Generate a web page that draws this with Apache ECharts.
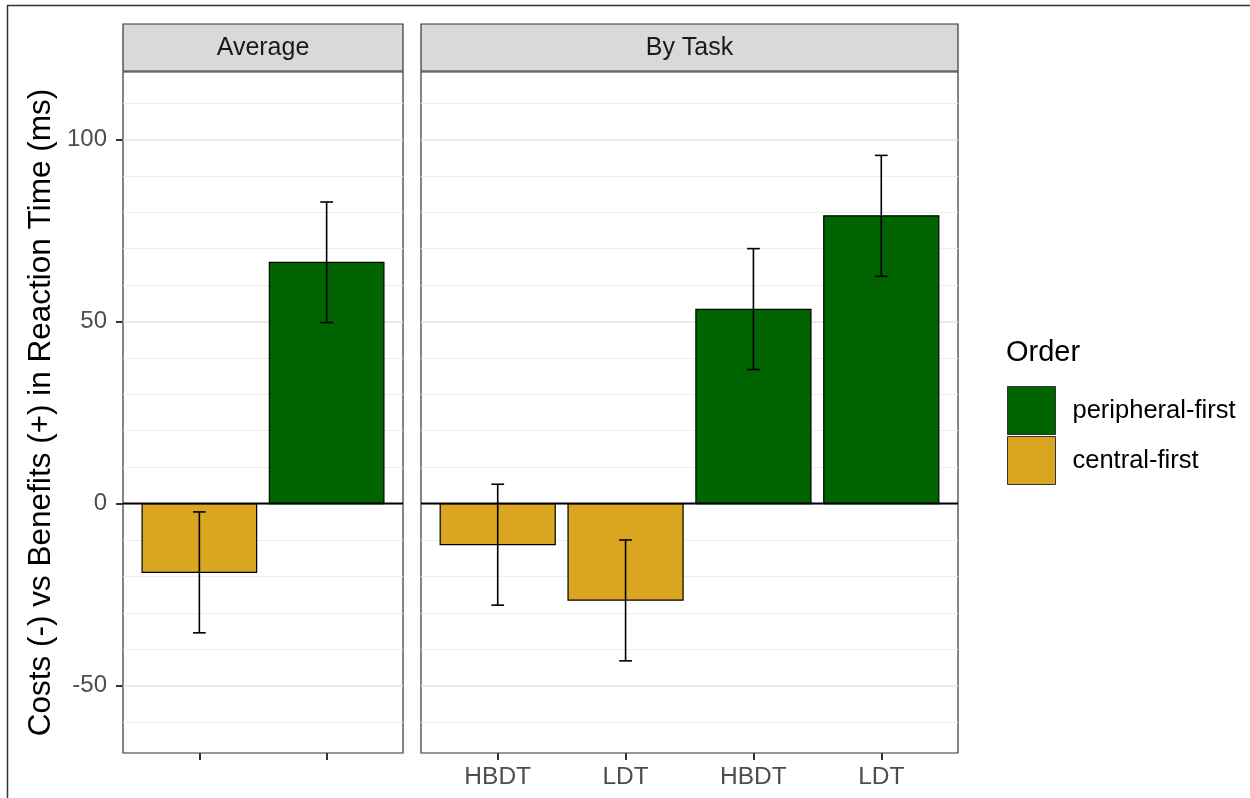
<!DOCTYPE html>
<html>
<head>
<meta charset="utf-8">
<title>Costs vs Benefits in Reaction Time</title>
<script src="https://cdn.jsdelivr.net/npm/echarts@6/dist/echarts.min.js"></script>
<style>
  html, body { margin: 0; padding: 0; background: #fff; }
  #chart { width: 1250px; height: 798px; }
</style>
</head>
<body>
<div id="chart"></div>
<script>
// ---- data ----
const panelTitles = ['Average', 'By Task'];
const orderLevels = ['peripheral-first', 'central-first'];
const orderColors = { 'peripheral-first': '#006400', 'central-first': '#DAA520' };

// Average panel: one bar per order
const avgOrder = ['central-first', 'peripheral-first'];
const avgMean = [-18.9, 66.2];
const avgLower = [-35.5, 49.7];
const avgUpper = [-2.3, 82.8];

// By Task panel
const taskLabels = ['HBDT', 'LDT', 'HBDT', 'LDT'];
const taskOrder = ['central-first', 'central-first', 'peripheral-first', 'peripheral-first'];
const taskMean = [-11.3, -26.5, 53.3, 79.0];
const taskLower = [-27.9, -43.2, 36.8, 62.4];
const taskUpper = [5.3, -10.0, 70.0, 95.6];

// y axis
const yMin = -68.5, yMax = 118.5;
const yMajor = [-50, 0, 50, 100];
const yMinor = [-60, -40, -30, -20, -10, 10, 20, 30, 40, 60, 70, 80, 90, 110];
const yTitle = 'Costs (-) vs Benefits (+) in Reaction Time (ms)';

// ---- layout ----
const FONT = "'Liberation Sans', Arial, Helvetica, sans-serif";
const panelTop = 72, panelHeight = 681;
const panels = [
  { left: 123, width: 280, n: 2 },
  { left: 421, width: 537, n: 4 }
];
const barHalf = 0.45, capHalf = 0.05;

function rowsFor(order, means, lower, upper, level) {
  const rows = [];
  order.forEach((o, i) => {
    if (o === level) rows.push([i + 1, means[i], lower[i], upper[i]]);
  });
  return rows;
}

function renderBar(params, api) {
  const x = api.value(0), y = api.value(1);
  const a = api.coord([x - barHalf, y]);
  const b = api.coord([x + barHalf, 0]);
  return {
    type: 'rect',
    shape: { x: a[0], y: Math.min(a[1], b[1]), width: b[0] - a[0], height: Math.abs(b[1] - a[1]) },
    style: { fill: api.visual('color'), stroke: '#000', lineWidth: 1.2 }
  };
}

function renderErr(params, api) {
  const x = api.value(0), lo = api.value(2), hi = api.value(3);
  const t = api.coord([x, hi]), b = api.coord([x, lo]);
  const l = api.coord([x - capHalf, hi])[0], r = api.coord([x + capHalf, hi])[0];
  const st = { stroke: '#000', lineWidth: 1.6 };
  return {
    type: 'group',
    children: [
      { type: 'line', shape: { x1: t[0], y1: t[1], x2: b[0], y2: b[1] }, style: st },
      { type: 'line', shape: { x1: l, y1: t[1], x2: r, y2: t[1] }, style: st },
      { type: 'line', shape: { x1: l, y1: b[1], x2: r, y2: b[1] }, style: st }
    ]
  };
}

const grids = panels.map(p => ({
  left: p.left, top: panelTop, width: p.width, height: panelHeight,
  show: true, borderColor: '#333', borderWidth: 1.2, backgroundColor: '#fff'
}));

const xAxes = panels.map((p, gi) => ({
  type: 'value', gridIndex: gi, min: 0.4, max: p.n + 0.6, position: 'bottom',
  axisLine: { show: false, onZero: false },
  splitLine: { show: false },
  axisTick: {
    show: true, length: 7, customValues: p.n === 2 ? [1, 2] : [1, 2, 3, 4],
    lineStyle: { color: '#333', width: 2 }
  },
  axisLabel: {
    show: gi === 1, customValues: [1, 2, 3, 4], margin: 12,
    fontSize: 24.5, color: '#4d4d4d', fontFamily: FONT,
    formatter: v => taskLabels[Math.round(v) - 1] || ''
  }
}));

const yAxes = [];
panels.forEach((p, gi) => {
  // minor grid lines
  yAxes.push({
    type: 'value', gridIndex: gi, min: yMin, max: yMax, position: 'left',
    axisLine: { show: false, onZero: false },
    axisLabel: { show: false },
    axisTick: { show: false, customValues: yMinor },
    splitLine: { show: true, lineStyle: { color: '#ececec', width: 1 } }
  });
  // major grid lines, ticks and labels
  yAxes.push({
    type: 'value', gridIndex: gi, min: yMin, max: yMax, position: 'left',
    axisLine: { show: false, onZero: false },
    axisLabel: {
      show: gi === 0, customValues: yMajor, margin: 16,
      fontSize: 24, color: '#4d4d4d', fontFamily: FONT
    },
    axisTick: { show: gi === 0, customValues: yMajor, length: 7, lineStyle: { color: '#333', width: 2 } },
    splitLine: { show: true, lineStyle: { color: '#e3e3e3', width: 1.6 } },
    name: gi === 0 ? yTitle : '',
    nameLocation: 'middle', nameRotate: 90, nameGap: 66,
    nameTextStyle: { fontSize: 31.5, color: '#000', fontFamily: FONT }
  });
});

const series = [];
const sources = [
  { order: avgOrder, mean: avgMean, lower: avgLower, upper: avgUpper },
  { order: taskOrder, mean: taskMean, lower: taskLower, upper: taskUpper }
];
sources.forEach((s, gi) => {
  orderLevels.forEach(level => {
    const rows = rowsFor(s.order, s.mean, s.lower, s.upper, level);
    series.push({
      type: 'custom', name: level, xAxisIndex: gi, yAxisIndex: gi * 2 + 1,
      itemStyle: { color: orderColors[level], borderColor: '#333', borderWidth: 1 },
      renderItem: renderBar, data: rows, z: 2, silent: true,
      encode: { x: 0, y: [1, 2, 3] }
    });
  });
  // reference line at zero
  series.push({
    type: 'line', xAxisIndex: gi, yAxisIndex: gi * 2 + 1, z: 3, silent: true,
    data: [[0.4, 0], [panels[gi].n + 0.6, 0]], symbol: 'none',
    lineStyle: { color: '#000', width: 2 }
  });
  orderLevels.forEach(level => {
    const rows = rowsFor(s.order, s.mean, s.lower, s.upper, level);
    series.push({
      type: 'custom', name: level + ' error', xAxisIndex: gi, yAxisIndex: gi * 2 + 1,
      renderItem: renderErr, data: rows, z: 4, silent: true,
      encode: { x: 0, y: [1, 2, 3] }
    });
  });
});

const graphics = [
  // outer frame edges
  { type: 'line', shape: { x1: 7, y1: 5.5, x2: 1250, y2: 5.5 }, style: { stroke: '#333', lineWidth: 1.5 } },
  { type: 'line', shape: { x1: 7.5, y1: 5, x2: 7.5, y2: 798 }, style: { stroke: '#333', lineWidth: 1.5 } },
  // legend title
  { type: 'text', left: 1006, top: 338, style: { text: 'Order', fontSize: 29, fontFamily: FONT, fill: '#000' } }
];
panels.forEach((p, i) => {
  graphics.push({
    type: 'rect', shape: { x: p.left, y: 24, width: p.width, height: 47 },
    style: { fill: '#d9d9d9', stroke: '#333', lineWidth: 1.2 }, z: 10
  });
  graphics.push({
    type: 'text', x: p.left + p.width / 2, y: 48,
    style: { text: panelTitles[i], fontSize: 25, fontFamily: FONT, fill: '#1a1a1a', align: 'center', verticalAlign: 'middle' },
    z: 11
  });
});

const chart = echarts.init(document.getElementById('chart'), null, { renderer: 'canvas' });
chart.setOption({
  animation: false,
  backgroundColor: '#fff',
  textStyle: { fontFamily: FONT },
  grid: grids,
  xAxis: xAxes,
  yAxis: yAxes,
  legend: {
    data: orderLevels, orient: 'vertical', left: 1007, top: 386, padding: 0,
    itemWidth: 48, itemHeight: 48, itemGap: 1, icon: 'rect',
    itemStyle: { borderColor: '#333', borderWidth: 1 },
    textStyle: { fontSize: 25.5, color: '#000', fontFamily: FONT, padding: [0, 0, 0, 12] },
    selectedMode: false
  },
  series: series,
  graphic: graphics
});
</script>
</body>
</html>
